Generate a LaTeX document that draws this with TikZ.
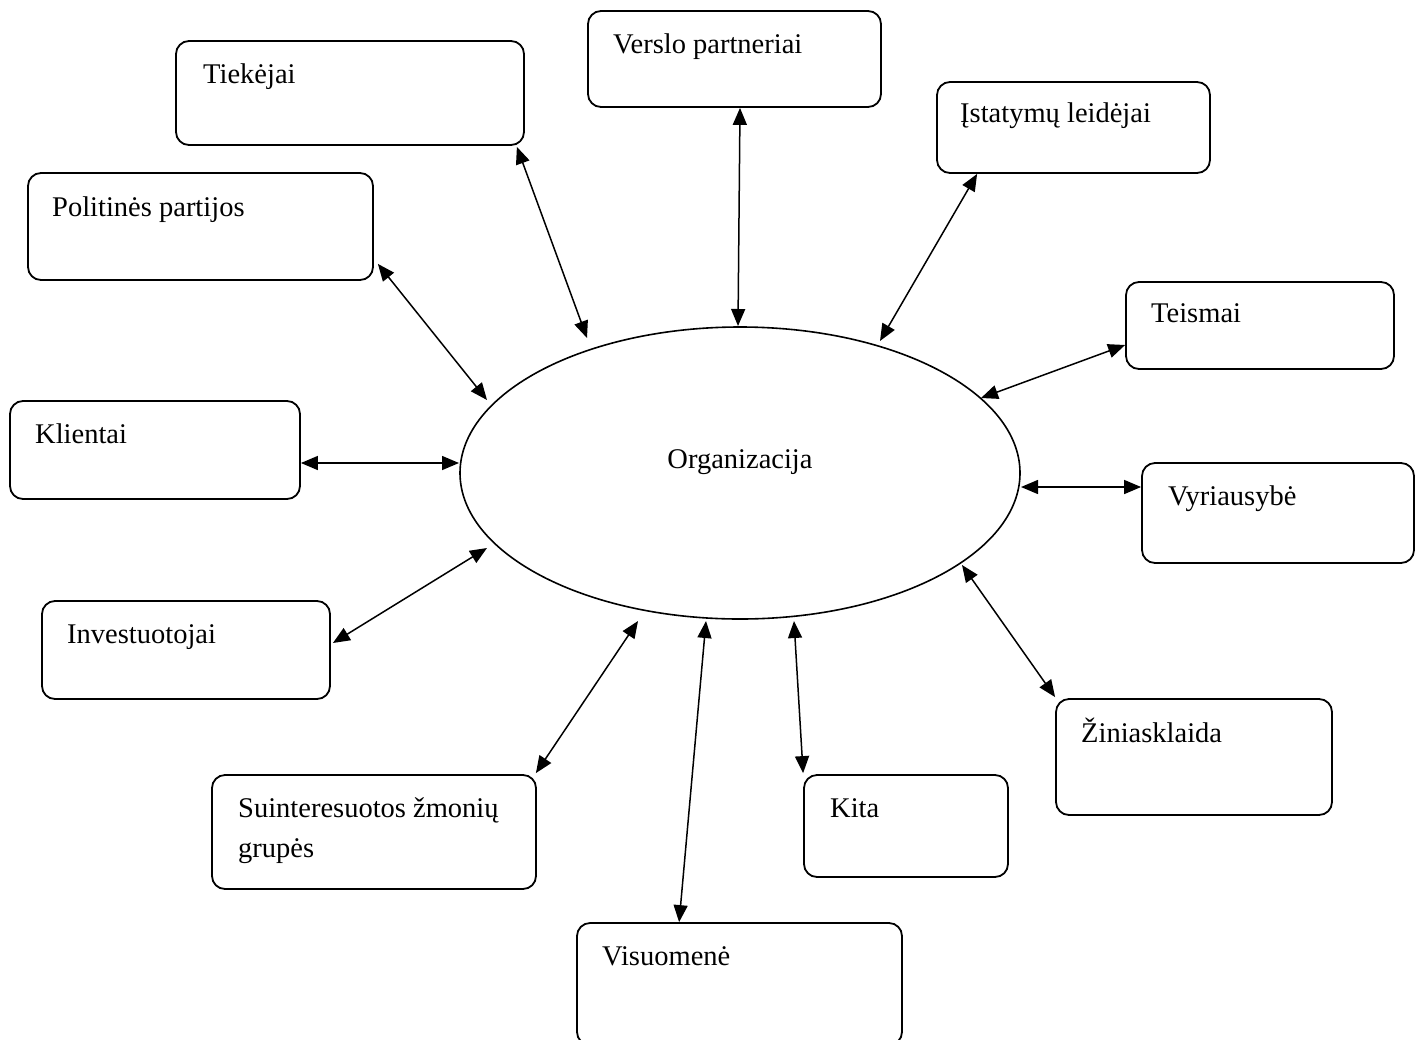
\documentclass[tikz,border=0pt]{standalone}
\usepackage{fontspec}
\setmainfont{Liberation Serif}
\usetikzlibrary{arrows.meta,calc,shapes.geometric}
\tikzset{
  boxnode/.style={draw, line width=1.8pt, rounded corners=13pt, rectangle, inner sep=0pt},
  lbl/.style={anchor=base west, inner sep=0pt, font=\fontsize{28.5pt}{40pt}\selectfont},
  link/.style={line width=1.5pt, {Triangle[length=17pt,width=14pt]}-{Triangle[length=17pt,width=14pt]}}
}
\begin{document}
\begin{tikzpicture}[x=1pt,y=-1pt]
\useasboundingbox (0,0) rectangle (1423,1039);
% central ellipse
\node[draw, ellipse, line width=1.6pt, minimum width=560pt, minimum height=292pt, inner sep=0pt] (org) at (740,473) {};
\node[anchor=base, inner sep=0pt, font=\fontsize{28.5pt}{40pt}\selectfont] (orgT) at (740,468) {Organizacija};
% boxes
\node[boxnode, minimum width=348pt, minimum height=104pt] (tie) at (350,93) {};
\node[boxnode, minimum width=293pt, minimum height=96pt] (ver) at (734.5,59) {};
\node[boxnode, minimum width=273pt, minimum height=91pt] (ist) at (1073.5,127.5) {};
\node[boxnode, minimum width=345pt, minimum height=107pt] (pol) at (200.5,226.5) {};
\node[boxnode, minimum width=268pt, minimum height=87pt] (tei) at (1260,325.5) {};
\node[boxnode, minimum width=290pt, minimum height=98pt] (kli) at (155,450) {};
\node[boxnode, minimum width=272pt, minimum height=100pt] (vyr) at (1278,513) {};
\node[boxnode, minimum width=288pt, minimum height=98pt] (inv) at (186,650) {};
\node[boxnode, minimum width=276pt, minimum height=116pt] (zin) at (1194,757) {};
\node[boxnode, minimum width=324pt, minimum height=114pt] (sui) at (374,832) {};
\node[boxnode, minimum width=204pt, minimum height=102pt] (kit) at (906,826) {};
\node[boxnode, minimum width=325pt, minimum height=122pt] (vis) at (739.5,984) {};
% labels
\node[lbl] (tieT) at (203,83) {Tiekėjai};
\node[lbl] (verT) at (613,53) {Verslo partneriai};
\node[lbl] (polT) at (52,216) {Politinės partijos};
\node[lbl] (istT) at (960,122) {Įstatymų leidėjai};
\node[lbl] (teiT) at (1151,322) {Teismai};
\node[lbl] (kliT) at (35,443) {Klientai};
\node[lbl] (vyrT) at (1168,505) {Vyriausybė};
\node[lbl] (invT) at (67,643) {Investuotojai};
\node[lbl] (zinT) at (1081,742) {Žiniasklaida};
\node[lbl] (suiT) at (238,817) {Suinteresuotos žmonių};
\node[lbl] (suiT2) at (238,857) {grupės};
\node[lbl] (kitT) at (830,817) {Kita};
\node[lbl] (visT) at (602,965) {Visuomenė};
% connectors
\draw[link] ($(tie.south east)+(-8,1)$) -- ($(org.center)+(-153,-135)$);
\draw[link] ($(ver.south)+(5.5,0)$) -- ($(org.center)+(-2,-147)$);
\draw[link] ($(ist.south west)+(41,0)$) -- ($(org.center)+(140,-132)$);
\draw[link] ($(tei.west)+(0,19.5)$) -- ($(org.center)+(241,-75)$);
\draw[link] ($(kli.east)+(0,13)$) -- ($(org.center)+(-281,-10)$);
\draw[link] ($(org.center)+(281,14)$) -- ($(vyr.west)+(0,-26)$);
\draw[link] ($(inv.east)+(2,-7)$) -- ($(org.center)+(-253,75)$);
\draw[link] ($(org.center)+(222,92)$) -- ($(zin.north west)+(0,-1)$);
\draw[link] ($(sui.north east)+(-1,-1)$) -- ($(org.center)+(-102,148)$);
\draw[link] ($(vis.north west)+(103,0)$) -- ($(org.center)+(-34,148)$);
\draw[link] ($(kit.north west)+(0,-1)$) -- ($(org.center)+(54,148)$);
\draw[link] ($(pol.south east)+(4,-17)$) -- ($(org.center)+(-253,-73)$);
\end{tikzpicture}
\end{document}
